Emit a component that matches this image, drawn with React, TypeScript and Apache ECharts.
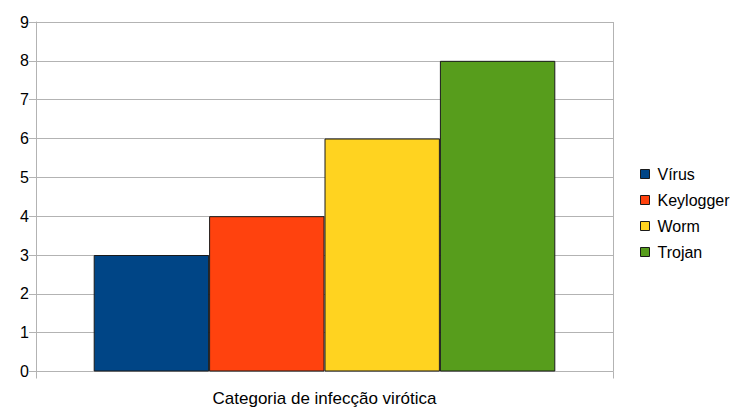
import React, { useEffect, useRef } from "react";
import * as echarts from "echarts";

const categories = [""];
const seriesNames = ["Vírus", "Keylogger", "Worm", "Trojan"];
const seriesValues = [3, 4, 6, 8];
const seriesColors = ["#004586", "#ff420e", "#ffd320", "#579d1c"];
const xAxisTitle = "Categoria de infecção virótica";

export default function App() {
  const ref = useRef<HTMLDivElement>(null);
  useEffect(() => {
    if (!ref.current) return;
    const chart = echarts.init(ref.current, undefined, { renderer: "svg" });
    const font = "'Liberation Sans', Arial, sans-serif";
    chart.setOption({
      animation: false,
      backgroundColor: "#ffffff",
      grid: { left: 36, right: 127, top: 22, bottom: 35.5, containLabel: false, outerBoundsMode: "none" },
      legend: {
        orient: "vertical",
        left: 635,
        top: 161,
        itemWidth: 9,
        itemHeight: 9,
        itemGap: 10,
        icon: "rect",
        data: seriesNames,
        textStyle: { fontFamily: font, fontSize: 16, color: "#000", lineHeight: 16, padding: [0, 0, 0, 3] },
        itemStyle: { borderColor: "#1a1a1a", borderWidth: 1 },
      },
      xAxis: {
        type: "category",
        data: categories,
        name: xAxisTitle,
        nameLocation: "middle",
        nameGap: 18,
        nameTextStyle: { fontFamily: font, fontSize: 17, color: "#000", verticalAlign: "top" },
        axisLine: { show: true, lineStyle: { color: "#b3b3b3", width: 1 } },
        axisTick: { show: true, length: 7, lineStyle: { color: "#b3b3b3" } },
        axisLabel: { show: false },
        splitLine: { show: true, lineStyle: { color: "#b3b3b3", width: 1 } },
      },
      yAxis: {
        type: "value",
        min: 0,
        max: 9,
        interval: 1,
        axisLine: { show: true, lineStyle: { color: "#b3b3b3", width: 1 } },
        axisTick: { show: true, length: 7, lineStyle: { color: "#b3b3b3" } },
        axisLabel: { fontFamily: font, fontSize: 16, color: "#000", margin: 7 },
        splitLine: { show: true, lineStyle: { color: "#b3b3b3", width: 1 } },
      },
      series: seriesNames.map((name, i) => ({
        name,
        type: "bar",
        data: [seriesValues[i]],
        barGap: "0%",
        barCategoryGap: "20%",
        itemStyle: { color: seriesColors[i], borderColor: "#1a1a1a", borderWidth: 1 },
      })),
    });
    return () => chart.dispose();
  }, []);
  return <div ref={ref} style={{ width: 740, height: 407, position: "absolute", left: 0, top: 0 }} />;
}
